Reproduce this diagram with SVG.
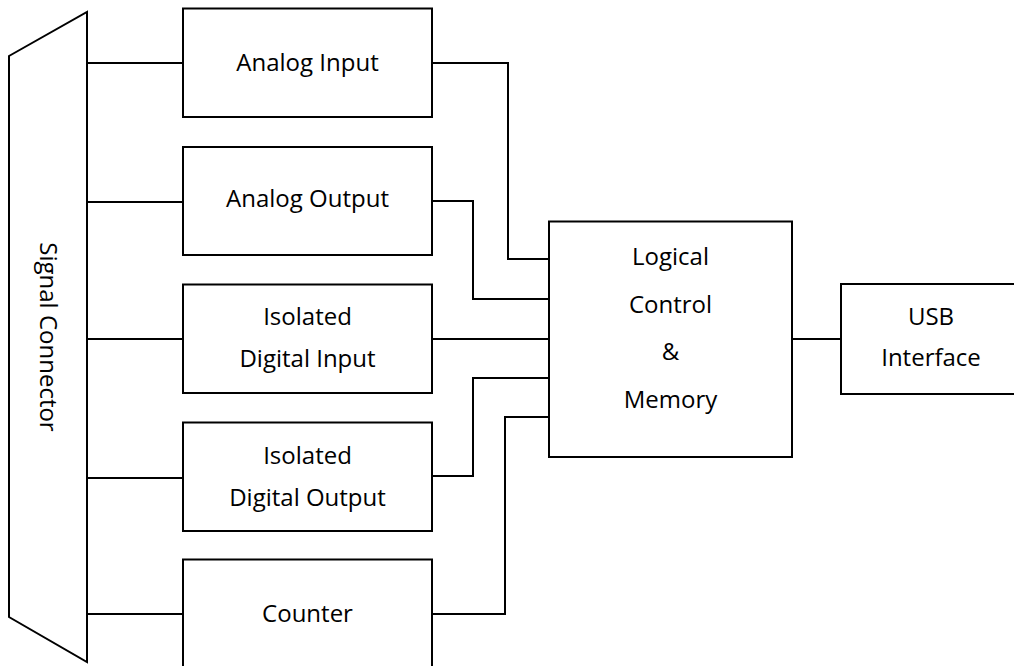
<svg xmlns="http://www.w3.org/2000/svg" width="1014" height="666" viewBox="0 0 1014 666">
<style>
.s{fill:#fff;stroke:#000;stroke-width:2}
.c{fill:none;stroke:#000;stroke-width:2}
text{font-family:"Open Sans","Noto Sans",sans-serif;font-size:24px;fill:#000;text-anchor:middle}
</style>
<rect width="1014" height="666" fill="#fff"/>
<g id="connectors">
<path class="c" d="M87 63H183M87 202H183M87 339H183M87 478H183M87 614H183"/>
<path class="c" d="M432 63H508V259H549"/>
<path class="c" d="M432 201H473V299H549"/>
<path class="c" d="M432 339H549"/>
<path class="c" d="M432 476H473V378H549"/>
<path class="c" d="M432 614H505V417H549"/>
<path class="c" d="M792 339H841"/>
</g>
<g id="signal-connector">
<polygon class="s" points="9,56 87,12 87,662 9,617"/>
<text transform="translate(40,337) rotate(90)">Signal Connector</text>
</g>
<g id="analog-input">
<rect class="s" x="183" y="8.5" width="249" height="108.5"/>
<text x="307.5" y="71">Analog Input</text>
</g>
<g id="analog-output">
<rect class="s" x="183" y="147" width="249" height="108"/>
<text x="307.5" y="207">Analog Output</text>
</g>
<g id="isolated-digital-input">
<rect class="s" x="183" y="284.5" width="249" height="108.5"/>
<text x="307.5" y="325">Isolated</text>
<text x="307.5" y="367">Digital Input</text>
</g>
<g id="isolated-digital-output">
<rect class="s" x="183" y="422.5" width="249" height="108.5"/>
<text x="307.5" y="463.5">Isolated</text>
<text x="307.5" y="505.5">Digital Output</text>
</g>
<g id="counter">
<rect class="s" x="183" y="559.5" width="249" height="110"/>
<text x="307.5" y="622">Counter</text>
</g>
<g id="logical-control">
<rect class="s" x="549" y="221.5" width="243" height="235.5"/>
<text x="670.5" y="265">Logical</text>
<text x="670.5" y="312.5">Control</text>
<text x="670.5" y="360">&amp;</text>
<text x="670.5" y="408">Memory</text>
</g>
<g id="usb-interface">
<rect class="s" x="841" y="284" width="180" height="110"/>
<text x="931" y="325">USB</text>
<text x="931" y="366">Interface</text>
</g>
</svg>
